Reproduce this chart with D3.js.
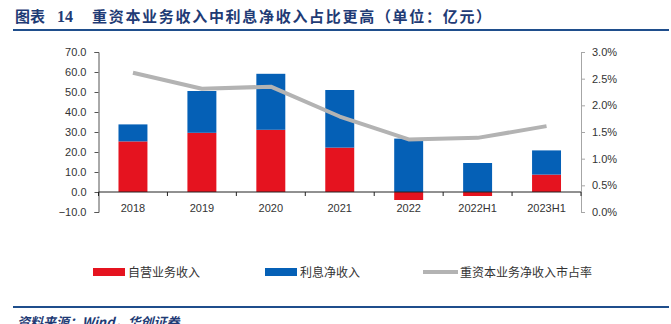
<!DOCTYPE html>
<html>
<head>
<meta charset="utf-8">
<script src="https://cdn.jsdelivr.net/npm/d3@7/dist/d3.min.js"></script>
<style>
  html, body { margin: 0; padding: 0; background: #fff; }
  svg { display: block; }
  .tick text { font-family: "Liberation Sans", Arial, sans-serif; font-size: 11px; fill: #333; }
</style>
</head>
<body>
<svg id="chart" width="671" height="324"></svg>
<script>
// categories and series (亿元 / %)
const categories = ["2018", "2019", "2020", "2021", "2022", "2022H1", "2023H1"];
const proprietary = [25.3, 29.6, 31.1, 22.2, -4.0, -2.0, 8.7];   // 自营业务收入
const netInterest = [8.5, 20.9, 28.0, 28.8, 26.7, 14.5, 12.1];   // 利息净收入
const marketShare = [2.61, 2.31, 2.35, 1.79, 1.36, 1.39, 1.61];  // 重资本业务净收入市占率, %
const leftTicks = [-10, 0, 10, 20, 30, 40, 50, 60, 70];
const rightTicks = [0, 0.5, 1.0, 1.5, 2.0, 2.5, 3.0];

const seriesNames = ["自营业务收入", "利息净收入", "重资本业务净收入市占率"];
const colors = { red: "#e5131f", blue: "#0560b6", grey: "#b3b3b3", navy: "#1f3b75" };
const cjk = "'Noto Sans CJK SC', sans-serif";

const svg = d3.select("#chart");
const plotLeft = 98.5, plotRight = 581, plotTop = 52, plotBottom = 212;

const x = d3.scaleBand()
  .domain(categories)
  .range([plotLeft, plotRight])
  .paddingInner(0.58)
  .paddingOuter(0.29);

const y = d3.scaleLinear().domain([-10, 70]).range([plotBottom, plotTop]);
const y2 = d3.scaleLinear().domain([0, 3]).range([plotBottom, plotTop]);

// header
svg.append("text")
  .attr("x", 15).attr("y", 22)
  .attr("font-family", cjk).attr("font-weight", 700).attr("font-size", 15)
  .attr("fill", colors.navy)
  .text("图表");
svg.append("text")
  .attr("x", 57).attr("y", 22)
  .attr("font-family", "'Liberation Serif', serif").attr("font-weight", 700).attr("font-size", 16)
  .attr("fill", colors.navy)
  .text("14");
svg.append("text")
  .attr("x", 92).attr("y", 22)
  .attr("font-family", cjk).attr("font-weight", 700).attr("font-size", 15)
  .attr("letter-spacing", 1.7)
  .attr("fill", colors.navy)
  .text("重资本业务收入中利息净收入占比更高（单位：亿元）");
svg.append("line")
  .attr("x1", 13).attr("x2", 669).attr("y1", 30).attr("y2", 30)
  .attr("stroke", "#1f4e8c").attr("stroke-width", 2);

// stacked bars, negatives go below zero
const rows = categories.map((c, i) => ({ cat: c, prop: proprietary[i], interest: netInterest[i] }));
const stack = d3.stack().keys(["prop", "interest"]).offset(d3.stackOffsetDiverging);
const stacked = stack(rows);
const barColor = { prop: colors.red, interest: colors.blue };

svg.append("g")
  .selectAll("g")
  .data(stacked)
  .join("g")
  .attr("fill", d => barColor[d.key])
  .selectAll("rect")
  .data(d => d)
  .join("rect")
  .attr("x", d => x(d.data.cat))
  .attr("width", x.bandwidth())
  .attr("y", d => y(Math.max(d[0], d[1])))
  .attr("height", d => Math.abs(y(d[0]) - y(d[1])));

// left axis
svg.append("g")
  .attr("transform", `translate(${plotLeft},0)`)
  .call(d3.axisLeft(y).tickValues(leftTicks).tickFormat(d3.format(".1f")).tickSize(4).tickPadding(8))
  .call(g => g.selectAll("path, line").attr("stroke", "#555"));

// right axis
svg.append("g")
  .attr("transform", `translate(${plotRight},0)`)
  .call(d3.axisRight(y2).tickValues(rightTicks).tickFormat(d => d.toFixed(1) + "%").tickSize(4).tickPadding(7))
  .call(g => g.selectAll("path, line").attr("stroke", "#a6a6a6"));

// category axis on the zero line, ticks between bands
const zeroY = y(0);
const xAxis = svg.append("g");
xAxis.append("line")
  .attr("x1", plotLeft).attr("x2", plotRight).attr("y1", zeroY).attr("y2", zeroY)
  .attr("stroke", "#222").attr("stroke-width", 1);
xAxis.selectAll("line.sep")
  .data(d3.range(categories.length + 1))
  .join("line")
  .attr("class", "sep")
  .attr("x1", i => plotLeft + i * x.step()).attr("x2", i => plotLeft + i * x.step())
  .attr("y1", zeroY).attr("y2", zeroY + 4)
  .attr("stroke", "#222");
xAxis.selectAll("text")
  .data(categories)
  .join("text")
  .attr("x", d => x(d) + x.bandwidth() / 2)
  .attr("y", 212)
  .attr("text-anchor", "middle")
  .attr("font-family", "'Liberation Sans', Arial, sans-serif")
  .attr("font-size", 11)
  .attr("fill", "#333")
  .text(d => d);

// market share line
const line = d3.line()
  .x((d, i) => x(categories[i]) + x.bandwidth() / 2)
  .y(d => y2(d));
svg.append("path")
  .datum(marketShare)
  .attr("d", line)
  .attr("fill", "none")
  .attr("stroke", colors.grey)
  .attr("stroke-width", 4)
  .attr("stroke-linejoin", "round");

// legend
const legend = svg.append("g").attr("font-family", cjk).attr("font-size", 12).attr("fill", "#333");
legend.append("rect").attr("x", 93).attr("y", 268).attr("width", 32).attr("height", 8).attr("fill", colors.red);
legend.append("text").attr("x", 128).attr("y", 276.5).text(seriesNames[0]);
legend.append("rect").attr("x", 265).attr("y", 268).attr("width", 32).attr("height", 8).attr("fill", colors.blue);
legend.append("text").attr("x", 300).attr("y", 276.5).text(seriesNames[1]);
legend.append("line").attr("x1", 423).attr("x2", 458).attr("y1", 272).attr("y2", 272)
  .attr("stroke", colors.grey).attr("stroke-width", 4);
legend.append("text").attr("x", 460).attr("y", 276.5).text(seriesNames[2]);

// source footer
svg.append("line")
  .attr("x1", 13).attr("x2", 669).attr("y1", 307).attr("y2", 307)
  .attr("stroke", "#1f4e8c").attr("stroke-width", 2);
svg.append("text")
  .attr("x", 17).attr("y", 327)
  .attr("font-family", cjk).attr("font-size", 13).attr("font-style", "italic").attr("font-weight", 700)
  .attr("fill", colors.navy)
  .text("资料来源：Wind，华创证券");
</script>
</body>
</html>
